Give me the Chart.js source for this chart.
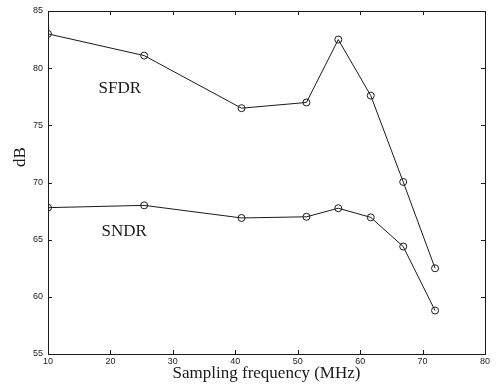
<!DOCTYPE html>
<html>
<head>
<meta charset="utf-8">
<script src="https://cdn.jsdelivr.net/npm/chart.js@4/dist/chart.umd.min.js"></script>
<style>
  html, body { margin: 0; padding: 0; background: #fff; }
  #wrap { width: 498px; height: 390px; }
</style>
</head>
<body>
<div id="wrap"><canvas id="chart" width="498" height="390"></canvas></div>
<script>
// sampling frequency (MHz) of each measurement
const freqs = [10, 25.4, 41, 51.4, 56.5, 61.7, 66.9, 72];
// measured values (dB)
const sfdr = [83.0, 81.1, 76.5, 77.0, 82.5, 77.6, 70.05, 62.5];
const sndr = [67.8, 68.0, 66.9, 67.0, 67.75, 66.95, 64.4, 58.8];

const xTicks = [10, 20, 30, 40, 50, 60, 70, 80];
const yTicks = [55, 60, 65, 70, 75, 80, 85];

const ink = '#1a1a1a';
const serif = "'Liberation Serif', 'DejaVu Serif', serif";

const toPoints = vals => vals.map((v, i) => ({ x: freqs[i], y: v }));

// box + inward ticks on all four sides, plus the text annotations
const framePlugin = {
  id: 'frame',
  afterDraw(chart) {
    const { ctx, chartArea: a, scales: { x, y } } = chart;
    ctx.save();
    ctx.strokeStyle = ink;
    ctx.lineWidth = 1;
    ctx.strokeRect(a.left + 0.5, a.top + 0.5, a.right - a.left, a.bottom - a.top);
    const len = 4;
    ctx.beginPath();
    xTicks.forEach(t => {
      const px = Math.round(x.getPixelForValue(t)) + 0.5;
      ctx.moveTo(px, a.bottom); ctx.lineTo(px, a.bottom - len);
      ctx.moveTo(px, a.top); ctx.lineTo(px, a.top + len);
    });
    yTicks.forEach(t => {
      const py = Math.round(y.getPixelForValue(t)) + 0.5;
      ctx.moveTo(a.left, py); ctx.lineTo(a.left + len, py);
      ctx.moveTo(a.right, py); ctx.lineTo(a.right - len, py);
    });
    ctx.stroke();

    ctx.fillStyle = ink;
    ctx.font = '17px ' + serif;
    ctx.textAlign = 'center';
    ctx.textBaseline = 'middle';
    ctx.fillText('SFDR', x.getPixelForValue(21.5), y.getPixelForValue(78.2));
    ctx.fillText('SNDR', x.getPixelForValue(22.2), y.getPixelForValue(65.7));

    // y axis title sits above the middle of the axis in the original
    ctx.translate(21, y.getPixelForValue(70.3) - 22);
    ctx.rotate(-Math.PI / 2);
    ctx.fillText('dB', 0, 0);
    ctx.restore();
  }
};

const lineStyle = {
  borderColor: ink,
  borderWidth: 1,
  pointStyle: 'circle',
  pointRadius: 3.5,
  pointBorderWidth: 1,
  pointBorderColor: ink,
  pointBackgroundColor: 'rgba(255,255,255,0)',
  tension: 0,
  fill: false,
};

new Chart(document.getElementById('chart').getContext('2d'), {
  type: 'line',
  data: {
    datasets: [
      { label: 'SFDR', data: toPoints(sfdr), ...lineStyle },
      { label: 'SNDR', data: toPoints(sndr), ...lineStyle },
    ],
  },
  options: {
    responsive: false,
    animation: false,
    layout: { padding: { left: 0, top: 11, right: 13, bottom: 0 } },
    plugins: { legend: { display: false }, tooltip: { enabled: false } },
    scales: {
      x: {
        type: 'linear',
        min: 10,
        max: 80,
        afterFit: s => { s.height = 36; },
        afterBuildTicks: s => { s.ticks = xTicks.map(v => ({ value: v })); },
        grid: { display: false, drawTicks: false },
        border: { display: false },
        ticks: { color: ink, padding: 2, font: { family: "'Liberation Sans', sans-serif", size: 9 } },
        title: {
          display: true,
          text: 'Sampling frequency (MHz)',
          color: ink,
          font: { family: serif, size: 17 },
          padding: { top: 0, bottom: 6 },
        },
      },
      y: {
        type: 'linear',
        min: 55,
        max: 85,
        afterFit: s => { s.width = 48; },
        afterBuildTicks: s => { s.ticks = yTicks.map(v => ({ value: v })); },
        grid: { display: false, drawTicks: false },
        border: { display: false },
        ticks: { color: ink, padding: 5, font: { family: "'Liberation Sans', sans-serif", size: 9 } },
      },
    },
  },
  plugins: [framePlugin],
});
</script>
</body>
</html>
